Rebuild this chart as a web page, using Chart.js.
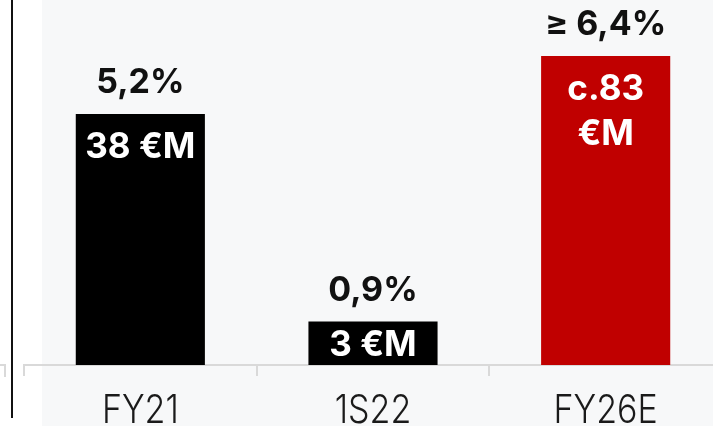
<!DOCTYPE html>
<html>
<head>
<meta charset="utf-8">
<script src="https://cdn.jsdelivr.net/npm/chart.js@4.4.1/dist/chart.umd.min.js"></script>
<style>
    html, body { margin: 0; padding: 0; background: #fff; }
    #wrap { position: relative; width: 713px; height: 426px; overflow: hidden; background: #fff; }
    #bg { position: absolute; left: 42px; top: 0; width: 671px; height: 426px; background: #f7f8f9; }
    #vline { position: absolute; left: 11px; top: 0; width: 2px; height: 418px; background: #111; }
    #stub { position: absolute; left: 0; top: 364px; width: 4px; height: 11px; border-top: 2px solid #d9d9d9; border-right: 2px solid #d9d9d9; }
    #chart { position: absolute; left: 0; top: 0; }
</style>
</head>
<body>
<div id="wrap">
    <div id="bg"></div>
    <div id="vline"></div>
    <div id="stub"></div>
    <canvas id="chart" width="722" height="426"></canvas>
</div>
<script>
// marge (%) par période, montant en €M dans la barre
const periods = ['FY21', '1S22', 'FY26E'];
const marginPct = [5.2, 0.9, 6.4];
const marginLabels = ['5,2%', '0,9%', '≥ 6,4%'];
const amountLabels = [['38 €M'], ['3 €M'], ['c.83', '€M']];
const barColors = ['#000000', '#000000', '#c00000'];

const FONT = 'Inter, "Noto Sans", sans-serif';

// Textes au-dessus et dans les barres
const barLabels = {
    id: 'barLabels',
    afterDatasetsDraw(chart) {
        const ctx = chart.ctx;
        const meta = chart.getDatasetMeta(0);
        ctx.save();
        ctx.textAlign = 'center';
        ctx.textBaseline = 'alphabetic';
        meta.data.forEach((bar, i) => {
            const top = bar.y;
            const h = bar.base - bar.y;

            // pourcentage au-dessus
            ctx.fillStyle = '#111';
            ctx.font = `bold 34px ${FONT}`;
            ctx.fillText(marginLabels[i], bar.x, top - 21);

            // montant dans la barre
            const capH = 25;
            const pad = Math.min(19, (h - capH) / 2);
            ctx.fillStyle = '#fff';
            ctx.font = `bold 35px ${FONT}`;
            amountLabels[i].forEach((line, j) => {
                ctx.fillText(line, bar.x, top + pad + capH + j * 45);
            });
        });
        ctx.restore();
    },
    // libellés de l'axe x, police fine un peu étirée en hauteur
    afterDraw(chart) {
        const ctx = chart.ctx;
        const xs = chart.scales.x;
        ctx.save();
        ctx.fillStyle = '#1a1a1a';
        ctx.font = `300 34px ${FONT}`;
        ctx.textAlign = 'center';
        ctx.textBaseline = 'alphabetic';
        chart.data.labels.forEach((lab, i) => {
            const asc = ctx.measureText(lab).actualBoundingBoxAscent;
            const s = 29 / asc;
            ctx.save();
            ctx.translate(xs.getPixelForTick(i), xs.top + 29);
            ctx.scale(1, s);
            ctx.fillText(lab, 0, asc);
            ctx.restore();
        });
        ctx.restore();
    }
};

const ctx = document.getElementById('chart').getContext('2d');
new Chart(ctx, {
    type: 'bar',
    data: {
        labels: periods,
        datasets: [{
            data: marginPct,
            backgroundColor: barColors,
            borderWidth: 0,
            barPercentage: 0.555,
            categoryPercentage: 1
        }]
    },
    options: {
        responsive: false,
        animation: false,
        devicePixelRatio: 1,
        layout: { padding: { left: 24, right: 0, top: 0, bottom: 0 } },
        plugins: {
            legend: { display: false },
            tooltip: { enabled: false }
        },
        scales: {
            x: {
                offset: true,
                grid: {
                    offset: true,
                    drawOnChartArea: false,
                    color: '#d9d9d9',
                    lineWidth: 2,
                    tickLength: 11
                },
                border: { display: true, color: '#d9d9d9', width: 2 },
                ticks: { display: false },
                afterFit(scale) { scale.height = 61; }
            },
            y: {
                display: false,
                min: 0,
                max: 7.56
            }
        }
    },
    plugins: [barLabels]
});
</script>
</body>
</html>
